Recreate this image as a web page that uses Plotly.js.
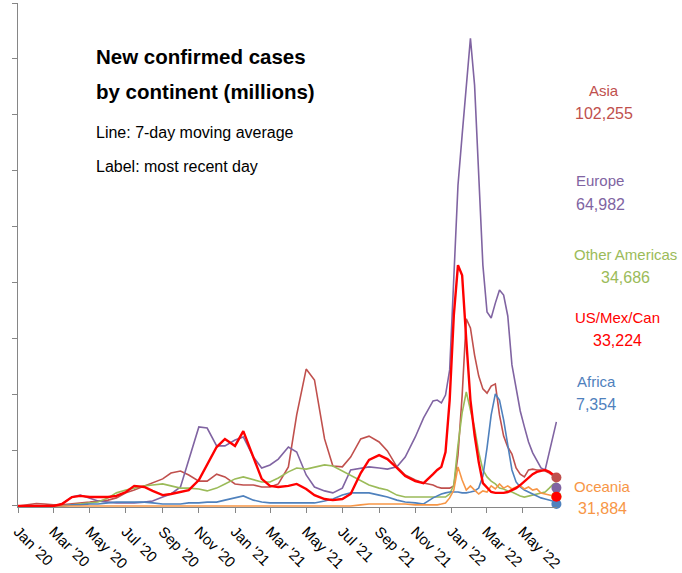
<!DOCTYPE html>
<html>
<head>
<meta charset="utf-8">
<script src="https://cdn.plot.ly/plotly-3.0.1.min.js"></script>
<style>
html,body{margin:0;padding:0;background:#fff;}
#chart{width:682px;height:573px;}
</style>
</head>
<body>
<div id="chart"></div>
<script>
// ---------- DATA (new confirmed cases, 7-day moving average, millions) ----------
var dates = ['2020-01-01','2020-01-15','2020-02-01','2020-02-15','2020-03-01','2020-03-15','2020-04-01','2020-04-15','2020-05-01','2020-05-15',
 '2020-06-01','2020-06-15','2020-07-01','2020-07-15','2020-08-01','2020-08-15','2020-09-01','2020-09-15','2020-10-01','2020-10-15',
 '2020-11-01','2020-11-15','2020-12-01','2020-12-15','2021-01-01','2021-01-15','2021-02-01','2021-02-15','2021-03-01','2021-03-15',
 '2021-04-01','2021-04-15','2021-05-01','2021-05-15','2021-06-01','2021-06-15','2021-07-01','2021-07-15','2021-08-01','2021-08-15',
 '2021-09-01','2021-09-15','2021-10-01','2021-10-15','2021-11-01','2021-11-15','2021-12-01','2021-12-08','2021-12-15','2021-12-22',
 '2021-12-29','2022-01-05','2022-01-12','2022-01-19','2022-01-26','2022-02-02','2022-02-09','2022-02-16','2022-02-23','2022-03-02',
 '2022-03-09','2022-03-16','2022-03-23','2022-03-30','2022-04-06','2022-04-13','2022-04-20','2022-04-27','2022-05-04','2022-05-11',
 '2022-05-18','2022-05-25','2022-06-01','2022-06-08','2022-06-15','2022-06-22','2022-06-27'];

var asia = [0,.004,.009,.007,.004,.004,.007,.011,.014,.018,
 .021,.029,.047,.057,.072,.082,.097,.118,.125,.111,
 .089,.089,.114,.104,.079,.075,.075,.068,.068,.079,
 .140,.326,.490,.451,.240,.143,.140,.175,.240,.250,
 .229,.197,.140,.111,.093,.082,.075,.068,.064,.064,
 .064,.072,.182,.394,.670,.637,.540,.465,.419,.404,
 .429,.437,.326,.250,.211,.186,.136,.114,.104,.129,
 .132,.129,.129,.125,.118,.107,.104];

var europe = [0,0,0,0,0,.007,.032,.039,.029,.018,
 .014,.011,.011,.011,.014,.018,.032,.043,.068,.165,
 .283,.279,.215,.215,.236,.247,.175,.136,.147,.168,
 .211,.193,.111,.068,.054,.047,.064,.129,.136,.140,
 .136,.132,.140,.175,.247,.315,.376,.379,.369,.397,
 .487,.809,1.148,1.327,1.506,1.674,1.506,1.202,.862,.694,
 .673,.726,.773,.755,.680,.505,.415,.340,.283,.229,
 .190,.161,.136,.129,.193,.265,.301];

var otherAmericas = [0,0,0,0,0,0,.004,.007,.011,.014,
 .029,.047,.057,.064,.072,.075,.079,.072,.064,.064,
 .061,.054,.064,.079,.097,.104,.093,.086,.086,.100,
 .122,.136,.132,.140,.147,.143,.125,.107,.089,.075,
 .064,.057,.039,.032,.032,.032,.032,.032,.032,.032,
 .043,.075,.218,.333,.408,.343,.279,.193,.129,.104,
 .089,.079,.064,.061,.054,.050,.043,.036,.032,.036,
 .039,.043,.047,.050,.064,.079,.082];

var usMexCan = [0,0,0,0,0,.007,.032,.036,.032,.032,
 .032,.036,.050,.072,.068,.054,.039,.043,.050,.057,
 .093,.147,.211,.240,.215,.268,.175,.097,.072,.068,
 .072,.079,.061,.039,.025,.021,.025,.043,.118,.165,
 .182,.168,.136,.107,.089,.082,.114,.129,.140,.193,
 .379,.683,.862,.826,.594,.379,.254,.157,.082,.064,
 .050,.047,.047,.047,.050,.057,.064,.075,.089,.100,
 .114,.122,.125,.129,.122,.111,.114];

var africa = [0,0,0,0,0,0,.004,.004,.007,.007,
 .011,.014,.014,.014,.014,.011,.007,.007,.007,.011,
 .011,.014,.014,.021,.029,.036,.021,.014,.011,.011,
 .011,.011,.011,.011,.018,.025,.039,.047,.047,.047,
 .039,.032,.021,.014,.011,.007,.029,.036,.043,.047,
 .050,.050,.050,.047,.047,.050,.054,.064,.107,.208,
 .326,.401,.379,.308,.218,.129,.086,.068,.057,.050,
 .043,.036,.029,.025,.021,.018,.014];

var oceania = [0,0,0,0,0,0,0,0,0,0,
 0,0,0,0,0,0,0,0,0,0,
 0,0,0,0,0,0,0,0,0,0,
 0,0,0,0,0,0,0,0,.004,.007,
 .007,.007,.007,.007,.004,.004,.004,.004,.007,.011,
 .029,.057,.140,.093,.057,.072,.057,.043,.054,.050,
 .072,.061,.079,.064,.072,.061,.068,.072,.061,.068,
 .057,.061,.046,.043,.039,.036,.039];

// most recent day (label values)
var names = ['Asia','Europe','Other Americas','US/Mex/Can','Africa','Oceania'];
var latestDay = [102255, 64982, 34686, 33224, 7354, 31884];
var latestDate = '2022-06-27';

var tickDates = ['2020-01-01','2020-03-01','2020-05-01','2020-07-01','2020-09-01','2020-11-01',
 '2021-01-01','2021-03-01','2021-05-01','2021-07-01','2021-09-01','2021-11-01',
 '2022-01-01','2022-03-01','2022-05-01'];
var tickLabels = ["Jan '20","Mar '20","May '20","Jul '20","Sep '20","Nov '20",
 "Jan '21","Mar '21","May '21","Jul '21","Sep '21","Nov '21",
 "Jan '22","Mar '22","May '22"];
var yTicks = [0,0.2,0.4,0.6,0.8,1.0,1.2,1.4,1.6,1.8];

// ---------- STYLE ----------
var FONT = '"Liberation Sans Narrow","Arial Narrow","Liberation Sans",Arial,sans-serif';
var colors = {'Asia':'#C0504D','Europe':'#8064A2','Other Americas':'#9BBB59',
              'US/Mex/Can':'#FF0000','Africa':'#4F81BD','Oceania':'#F79646'};
var series = {'Asia':asia,'Europe':europe,'Other Americas':otherAmericas,
              'US/Mex/Can':usMexCan,'Africa':africa,'Oceania':oceania};
var drawOrder = ['Asia','Europe','Other Americas','Africa','Oceania','US/Mex/Can'];

var traces = drawOrder.map(function(n){
  return {x:dates, y:series[n], type:'scatter', mode:'lines', name:n,
          line:{color:colors[n], width:(n==='US/Mex/Can'?2.4:1.6)}, hoverinfo:'skip'};
});
// last-day dots
var dotOrder = ['Other Americas','Oceania','Africa','Europe','Asia','US/Mex/Can'];
dotOrder.forEach(function(n){
  var i = names.indexOf(n);
  traces.push({x:[latestDate], y:[latestDay[i]/1e6], type:'scatter', mode:'markers',
    marker:{color:colors[n], size:10}, cliponaxis:false, hoverinfo:'skip'});
});

// layout geometry
var L = 18, T = 3, W = 539, H = 504;
function px(xp){ return (xp - L)/W; }
function py(yp){ return (T + H - yp)/H; }

var annotations = [];
function addText(txt, x, y, size, color, bold, anchor){
  annotations.push({text: bold ? '<b>'+txt+'</b>' : txt, xref:'paper', yref:'paper',
    x:px(x), y:py(y), xanchor:anchor||'center', yanchor:'middle', showarrow:false,
    font:{family:FONT, size:size, color:color}});
}
addText('New confirmed cases', 94, 57, 20.5, '#000', true, 'left');
addText('by continent (millions)', 94, 91, 20.5, '#000', true, 'left');
addText('Line: 7-day moving average', 94, 132, 16, '#000', false, 'left');
addText('Label: most recent day', 94, 167, 16, '#000', false, 'left');

var labelPos = {'Asia':[604,90,113],'Europe':[600,181,204],'Other Americas':[625,254,277],
  'US/Mex/Can':[617,317,340],'Africa':[596,381,404],'Oceania':[602,486,508]};
names.forEach(function(n,i){
  var p = labelPos[n];
  addText(n, p[0], p[1], 15, colors[n], false);
  addText(latestDay[i].toLocaleString('en-US'), p[0], p[2], 16, colors[n], false);
});

var layout = {
  width:682, height:573,
  margin:{l:L, r:682-L-W, t:T, b:573-T-H, pad:0},
  paper_bgcolor:'#fff', plot_bgcolor:'#fff',
  showlegend:false,
  xaxis:{type:'date', range:['2020-01-01','2022-06-28'], tickmode:'array',
    tickvals:tickDates, ticktext:tickLabels, tickangle:45, ticklabelstandoff:4,
    ticks:'outside', ticklen:5, tickcolor:'#868686', showline:true, linecolor:'#868686', linewidth:1,
    showgrid:false, zeroline:false, tickfont:{family:FONT, size:15, color:'#000'}},
  yaxis:{range:[-0.0036,1.8], tickmode:'array', tickvals:yTicks, showticklabels:false,
    ticks:'outside', ticklen:5, tickcolor:'#868686', showline:true, linecolor:'#868686', linewidth:1,
    showgrid:false, zeroline:false},
  annotations:annotations,
  font:{family:FONT}
};

Plotly.newPlot('chart', traces, layout, {displayModeBar:false, staticPlot:true});
</script>
</body>
</html>
